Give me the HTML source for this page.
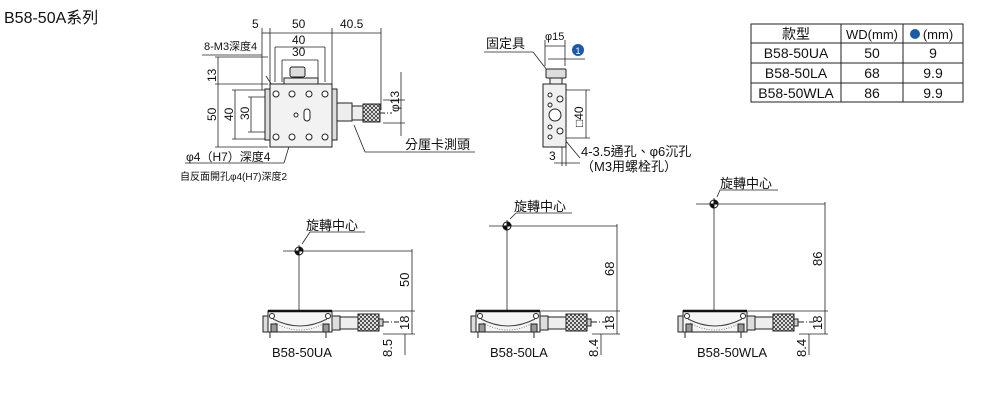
<!DOCTYPE html>
<html><head><meta charset="utf-8"><style>
body{margin:0;background:#fff;width:1001px;height:403px;overflow:hidden;font-family:"Liberation Sans","Noto Sans CJK TC",sans-serif}
</style></head><body>
<svg width="1001" height="403" viewBox="0 0 1001 403" xmlns="http://www.w3.org/2000/svg" font-family="Liberation Sans, Noto Sans CJK TC, sans-serif">
<defs>
<pattern id="kn" width="4" height="4" patternUnits="userSpaceOnUse"><rect width="4" height="4" fill="#fff"/><path d="M0 0L4 4M4 0L0 4" stroke="#333" stroke-width="0.8"/></pattern>
<g id="side">
 <rect x="-36" y="5" width="6" height="16" fill="#ddd" stroke="#222"/>
 <rect x="-31" y="0" width="64" height="21" fill="#f4f4f4" stroke="#222"/>
 <line x1="-31" y1="0" x2="33" y2="0" stroke="#111" stroke-width="2.5"/>
 <path d="M-26 8 Q1 22 28 8" fill="none" stroke="#444"/>
 <path d="M-24 12 Q1 26 26 12" fill="none" stroke="#888" stroke-dasharray="1 1.5"/>
 <circle cx="-27" cy="5" r="2.5" fill="#fff" stroke="#222"/><circle cx="29" cy="5" r="2.5" fill="#fff" stroke="#222"/>
 <rect x="-28" y="13" width="6" height="8" fill="#999" stroke="#222"/><rect x="24" y="13" width="6" height="8" fill="#999" stroke="#222"/>
 <rect x="33" y="5" width="8" height="14" fill="#ddd" stroke="#222"/>
 <rect x="41" y="6" width="18" height="12" fill="#eee" stroke="#222"/>
 <rect x="59" y="3" width="21" height="17" fill="url(#kn)" stroke="#222"/>
 <rect x="80" y="8" width="4" height="7" fill="#ccc" stroke="#222"/>
 <line x1="84" y1="11" x2="100" y2="11" stroke="#222" stroke-dasharray="6 2 1 2"/>
 <line x1="-29" y1="21" x2="-29" y2="27" stroke="#222"/><line x1="27" y1="21" x2="27" y2="27" stroke="#222"/>
</g>
</defs>
<text x="4" y="23" font-size="16" fill="#111">B58-50A系列</text>

<!-- top plan view -->
<g stroke="#222" fill="none" stroke-width="0.8">
 <line x1="270" y1="33" x2="381" y2="33"/>
 <line x1="262" y1="33" x2="270" y2="33"/>
 <line x1="262" y1="28" x2="262" y2="90"/><line x1="270" y1="28" x2="270" y2="84"/>
 <line x1="332" y1="28" x2="332" y2="84"/><line x1="381" y1="28" x2="381" y2="110"/>
 <line x1="275" y1="47" x2="325" y2="47"/><line x1="275" y1="47" x2="275" y2="82"/><line x1="325" y1="47" x2="325" y2="82"/>
 <line x1="282" y1="60" x2="318" y2="60"/><line x1="282" y1="60" x2="282" y2="82"/><line x1="318" y1="60" x2="318" y2="82"/>
 <line x1="202" y1="55" x2="262" y2="55"/>
 <line x1="215" y1="57" x2="268" y2="57"/><line x1="215" y1="84" x2="268" y2="84"/><line x1="218" y1="57" x2="218" y2="147"/>
 <line x1="215" y1="147" x2="268" y2="147"/>
 <line x1="232" y1="90" x2="268" y2="90"/><line x1="232" y1="139" x2="268" y2="139"/><line x1="235" y1="90" x2="235" y2="139"/>
 <line x1="248" y1="97" x2="268" y2="97"/><line x1="248" y1="132" x2="268" y2="132"/><line x1="251" y1="97" x2="251" y2="132"/>
 <line x1="383" y1="100" x2="405" y2="100"/><line x1="383" y1="123" x2="405" y2="123"/><line x1="401" y1="72" x2="401" y2="136"/>
 <line x1="266" y1="76" x2="277" y2="93"/>
 <line x1="354" y1="125" x2="365" y2="152"/><line x1="365" y1="152" x2="475" y2="152"/>
 <line x1="185" y1="163" x2="284" y2="163"/><line x1="284" y1="163" x2="297" y2="120"/>
</g>
<rect x="270" y="84" width="62" height="63" fill="#f2f2f2" stroke="#222"/>
<rect x="265" y="89" width="5" height="51" fill="#ddd" stroke="#222"/>
<rect x="332" y="89" width="5" height="51" fill="#ddd" stroke="#222"/>
<rect x="284" y="78" width="34" height="6" fill="#eee" stroke="#222"/>
<rect x="290" y="67" width="15" height="10" rx="2" fill="#ddd" stroke="#222"/>
<g fill="#fff" stroke="#222">
 <circle cx="276" cy="94" r="3"/><circle cx="292" cy="94" r="3"/><circle cx="309" cy="94" r="3"/><circle cx="325" cy="94" r="3"/>
 <circle cx="276" cy="137" r="3"/><circle cx="292" cy="137" r="3"/><circle cx="309" cy="137" r="3"/><circle cx="325" cy="137" r="3"/>
 <circle cx="296" cy="115" r="2"/><rect x="304" y="109" width="6" height="12" rx="3"/>
</g>
<rect x="337" y="103" width="15" height="18" fill="#eee" stroke="#222"/>
<rect x="352" y="106" width="11" height="14" fill="#eee" stroke="#222"/>
<rect x="363" y="104" width="17" height="18" fill="url(#kn)" stroke="#222"/>
<line x1="380" y1="113" x2="392" y2="113" stroke="#222" stroke-dasharray="5 2 1 2"/>
<g font-size="12" fill="#111">
 <text x="252" y="28">5</text><text x="292" y="28">50</text><text x="340" y="28">40.5</text>
 <text x="292" y="44">40</text><text x="292" y="56">30</text>
 <text x="204" y="50" font-size="11">8-M3深度4</text>
 <text x="405" y="149" font-size="13">分厘卡測頭</text>
 <text x="186" y="161" font-size="12">φ4（H7）深度4</text>
 <text x="180" y="180" font-size="10">自反面開孔φ4(H7)深度2</text>
 <text transform="translate(216,82) rotate(-90)">13</text>
 <text transform="translate(216,121) rotate(-90)">50</text>
 <text transform="translate(233,121) rotate(-90)">40</text>
 <text transform="translate(249,120) rotate(-90)">30</text>
 <text transform="translate(399,112) rotate(-90)">φ13</text>
</g>

<!-- side view -->
<g stroke="#222" fill="none" stroke-width="0.8">
 <line x1="545" y1="40" x2="545" y2="66"/><line x1="565" y1="40" x2="565" y2="66"/><line x1="545" y1="46" x2="565" y2="46"/>
 <line x1="484" y1="52" x2="533" y2="52"/><line x1="533" y1="52" x2="547" y2="70"/>
 <line x1="548" y1="59" x2="585" y2="59"/>
 <line x1="566" y1="90" x2="590" y2="90"/><line x1="566" y1="138" x2="590" y2="138"/><line x1="586" y1="90" x2="586" y2="138"/>
 <line x1="562" y1="142" x2="562" y2="166"/><line x1="566" y1="142" x2="566" y2="166"/><line x1="554" y1="163" x2="580" y2="163"/>
 <line x1="565" y1="140" x2="580" y2="158"/>
</g>
<rect x="546" y="69" width="20" height="9" rx="1" fill="#ddd" stroke="#222"/>
<rect x="550" y="78" width="12" height="6" fill="#eee" stroke="#222"/>
<rect x="543" y="84" width="23" height="63" fill="#f0f0f0" stroke="#222"/>
<g fill="#fff" stroke="#222"><circle cx="550" cy="95" r="2"/><circle cx="550" cy="105" r="2"/><circle cx="560" cy="99" r="3"/><circle cx="555" cy="115" r="6"/><circle cx="550" cy="127" r="2"/><circle cx="550" cy="137" r="2"/><circle cx="560" cy="131" r="3"/></g>
<g font-size="12" fill="#111">
 <text x="545" y="40" font-size="11">φ15</text>
 <text x="486" y="48" font-size="13">固定具</text>
 <circle cx="578" cy="50" r="6" fill="#1a5aa8"/><text x="575.5" y="54" font-size="9" fill="#fff">1</text>
 <text transform="translate(583,127) rotate(-90)">□40</text>
 <text x="549" y="160">3</text>
 <text x="581" y="156" font-size="13">4-3.5通孔、φ6沉孔</text>
 <text x="581" y="171" font-size="13">（M3用螺栓孔）</text>
</g>

<!-- table -->
<g stroke="#222" fill="none" stroke-width="1">
 <rect x="751" y="24" width="212" height="78"/>
 <line x1="751" y1="43" x2="963" y2="43"/><line x1="751" y1="63" x2="963" y2="63"/><line x1="751" y1="83" x2="963" y2="83"/>
 <line x1="841" y1="24" x2="841" y2="102"/><line x1="903" y1="24" x2="903" y2="102"/>
</g>
<g font-size="14" fill="#111" text-anchor="middle">
 <text x="796" y="39">款型</text><text x="872" y="39" font-size="13">WD(mm)</text><text x="938" y="39" font-size="13">(mm)</text>
 <text x="796" y="58">B58-50UA</text><text x="872" y="58">50</text><text x="933" y="58">9</text>
 <text x="796" y="78">B58-50LA</text><text x="872" y="78">68</text><text x="933" y="78">9.9</text>
 <text x="796" y="98">B58-50WLA</text><text x="872" y="98">86</text><text x="933" y="98">9.9</text>
</g>
<circle cx="915" cy="34" r="5" fill="#1a5aa8"/>

<!-- bottom views -->
<g stroke="#222" fill="none" stroke-width="0.8">
 <line x1="283" y1="251" x2="412" y2="251"/><line x1="299" y1="245" x2="299" y2="311"/>
 <line x1="412" y1="249" x2="412" y2="334"/><line x1="332" y1="311" x2="415" y2="311"/><line x1="383" y1="334" x2="415" y2="334"/>
 <line x1="405" y1="334" x2="405" y2="355"/>
 <line x1="302" y1="244" x2="310" y2="232"/><line x1="310" y1="232" x2="365" y2="232"/>
 <line x1="489" y1="226" x2="617" y2="226"/><line x1="507" y1="220" x2="507" y2="311"/>
 <line x1="617" y1="224" x2="617" y2="334"/><line x1="541" y1="311" x2="620" y2="311"/><line x1="592" y1="334" x2="620" y2="334"/>
 <line x1="601" y1="334" x2="601" y2="355"/>
 <line x1="510" y1="219" x2="516" y2="213"/><line x1="516" y1="213" x2="572" y2="213"/>
 <line x1="696" y1="204" x2="825" y2="204"/><line x1="714" y1="198" x2="714" y2="311"/>
 <line x1="825" y1="202" x2="825" y2="334"/><line x1="748" y1="311" x2="828" y2="311"/><line x1="799" y1="334" x2="828" y2="334"/>
 <line x1="809" y1="334" x2="809" y2="355"/>
 <line x1="717" y1="197" x2="720" y2="190"/><line x1="720" y1="190" x2="778" y2="190"/>
</g>
<use href="#side" x="299" y="311"/>
<use href="#side" x="507" y="311"/>
<use href="#side" x="714" y="311"/>
<g fill="#111" stroke="#111">
 <circle cx="299" cy="251" r="4" fill="#fff"/><path d="M299 247A4 4 0 0 1 303 251L299 251Z"/><path d="M299 255A4 4 0 0 1 295 251L299 251Z"/>
 <circle cx="507" cy="226" r="4" fill="#fff"/><path d="M507 222A4 4 0 0 1 511 226L507 226Z"/><path d="M507 230A4 4 0 0 1 503 226L507 226Z"/>
 <circle cx="714" cy="204" r="4" fill="#fff"/><path d="M714 200A4 4 0 0 1 718 204L714 204Z"/><path d="M714 208A4 4 0 0 1 710 204L714 204Z"/>
</g>
<g font-size="13" fill="#111">
 <text x="306" y="230">旋轉中心</text><text x="514" y="211">旋轉中心</text><text x="720" y="188">旋轉中心</text>
 <text x="272" y="357">B58-50UA</text><text x="490" y="357">B58-50LA</text><text x="697" y="357">B58-50WLA</text>
 <text transform="translate(409,287) rotate(-90)">50</text>
 <text transform="translate(409,330) rotate(-90)">18</text>
 <text transform="translate(392,357) rotate(-90)">8.5</text>
 <text transform="translate(614,276) rotate(-90)">68</text>
 <text transform="translate(614,330) rotate(-90)">18</text>
 <text transform="translate(598,357) rotate(-90)">8.4</text>
 <text transform="translate(822,266) rotate(-90)">86</text>
 <text transform="translate(822,330) rotate(-90)">18</text>
 <text transform="translate(806,357) rotate(-90)">8.4</text>
</g>
</svg>
</body></html>
